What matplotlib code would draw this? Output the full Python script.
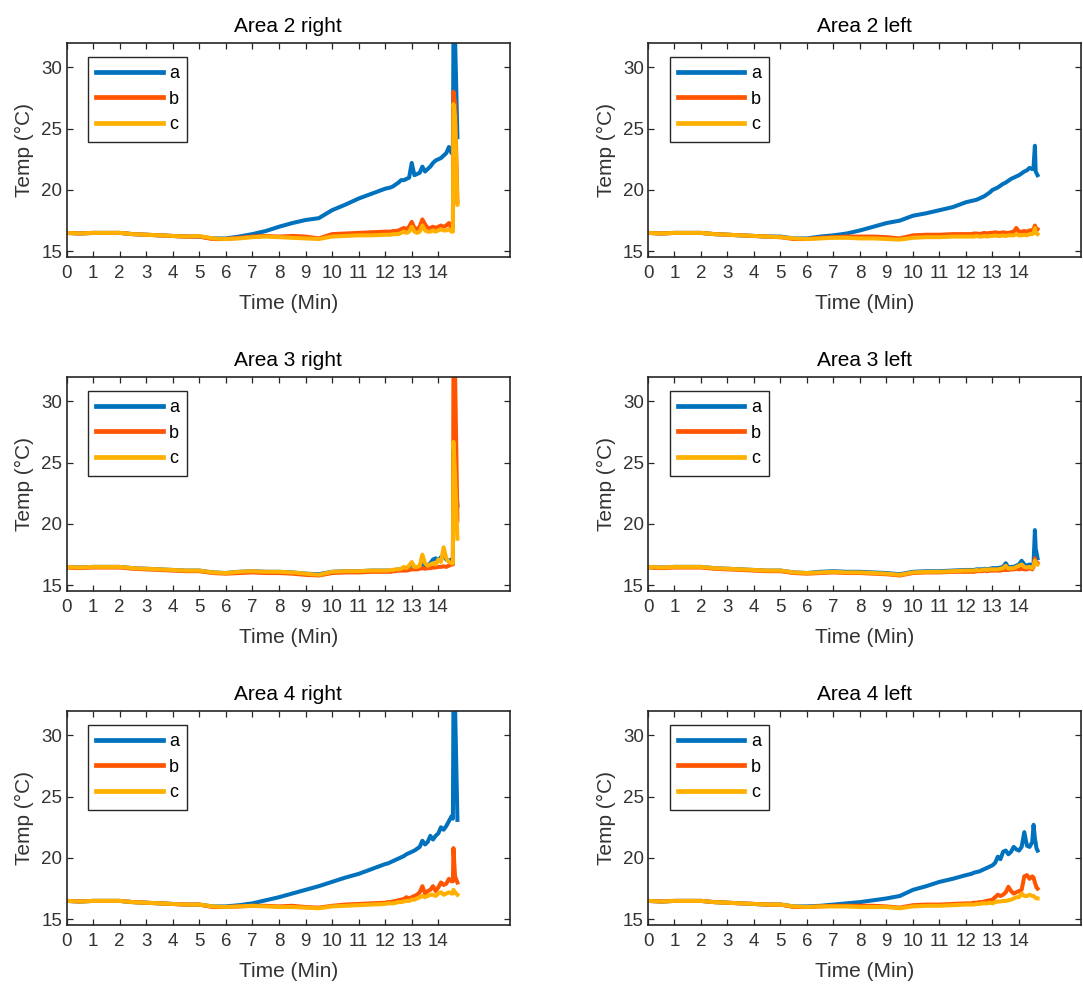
import numpy as np
import matplotlib
matplotlib.use("Agg")
import matplotlib.pyplot as plt

plt.rcParams['font.family'] = ['Liberation Sans', 'DejaVu Sans']

# Sample times (min): half-minute steps up to 12, then 0.1-minute steps to 14.5
T_MAIN = np.r_[np.arange(0, 12.01, 0.5), np.round(np.arange(12.1, 14.51, 0.1), 1)]

SERIES_LABELS = ["a", "b", "c"]
COLORS = ["#0072BD", "#FF5500", "#FFB000"]

# ---- Area 2 right ----
A2R_T = [14.55, 14.57, 14.63, 14.72]
A2R_A = [16.5, 16.45, 16.5, 16.5, 16.5, 16.4, 16.35, 16.3, 16.25, 16.2, 16.2, 16.05, 16.05,
         16.2, 16.4, 16.65, 17.0, 17.3, 17.55, 17.7, 18.35, 18.8, 19.3, 19.7, 20.1,
         20.15, 20.2, 20.3, 20.45, 20.6, 20.8, 20.8, 20.9, 21.0, 22.2,
         21.2, 21.3, 21.4, 21.9, 21.5, 21.7, 21.9, 22.2, 22.4, 22.5,
         22.6, 22.8, 23.0, 23.5, 23.0,
         23.1, 32.5, 32.5, 24.3]
A2R_B = [16.5, 16.45, 16.5, 16.5, 16.5, 16.4, 16.35, 16.3, 16.25, 16.2, 16.2, 16.0, 16.0,
         16.1, 16.2, 16.25, 16.2, 16.25, 16.2, 16.05, 16.4, 16.45, 16.5, 16.55, 16.6,
         16.6, 16.6, 16.65, 16.65, 16.7, 16.8, 16.9, 16.8, 17.0, 17.4,
         16.9, 16.8, 17.0, 17.6, 17.2, 16.9, 16.9, 17.0, 16.9, 17.0,
         17.1, 17.0, 17.1, 17.3, 16.9,
         16.9, 28.0, 27.0, 19.0]
A2R_C = [16.5, 16.45, 16.5, 16.5, 16.5, 16.4, 16.35, 16.3, 16.25, 16.2, 16.25, 16.05, 16.0,
         16.05, 16.15, 16.2, 16.15, 16.1, 16.05, 16.0, 16.2, 16.25, 16.3, 16.3, 16.35,
         16.35, 16.35, 16.4, 16.4, 16.4, 16.5, 16.6, 16.5, 16.6, 17.0,
         16.6, 16.5, 16.6, 17.1, 16.7, 16.6, 16.6, 16.7, 16.6, 16.7,
         16.8, 16.7, 16.7, 16.8, 16.6,
         16.6, 27.0, 26.0, 18.8]

# ---- Area 2 left ----
A2L_T = [14.55, 14.6, 14.63, 14.7]
A2L_A = [16.5, 16.45, 16.5, 16.5, 16.5, 16.4, 16.35, 16.3, 16.25, 16.2, 16.2, 16.05, 16.05,
         16.2, 16.3, 16.45, 16.7, 17.0, 17.3, 17.5, 17.9, 18.1, 18.35, 18.6, 19.0,
         19.05, 19.1, 19.15, 19.2, 19.3, 19.4, 19.5, 19.65, 19.8, 20.0,
         20.1, 20.2, 20.35, 20.5, 20.6, 20.75, 20.9, 21.0, 21.1, 21.2,
         21.35, 21.5, 21.6, 21.8, 21.7,
         21.9, 23.6, 21.5, 21.2]
A2L_B = [16.5, 16.45, 16.5, 16.5, 16.5, 16.4, 16.35, 16.3, 16.25, 16.2, 16.15, 16.0, 16.0,
         16.1, 16.15, 16.2, 16.2, 16.2, 16.15, 16.05, 16.3, 16.35, 16.35, 16.4, 16.4,
         16.4, 16.4, 16.45, 16.45, 16.4, 16.45, 16.5, 16.45, 16.5, 16.5,
         16.55, 16.5, 16.5, 16.55, 16.5, 16.5, 16.55, 16.6, 16.9, 16.6,
         16.6, 16.65, 16.6, 16.7, 16.7,
         16.8, 17.1, 16.9, 16.8]
A2L_C = [16.5, 16.45, 16.5, 16.5, 16.5, 16.4, 16.35, 16.3, 16.25, 16.2, 16.15, 16.05, 16.0,
         16.05, 16.1, 16.1, 16.05, 16.05, 16.0, 15.95, 16.1, 16.15, 16.15, 16.2, 16.2,
         16.2, 16.2, 16.2, 16.25, 16.2, 16.2, 16.25, 16.2, 16.25, 16.25,
         16.3, 16.25, 16.25, 16.3, 16.25, 16.3, 16.3, 16.3, 16.4, 16.3,
         16.3, 16.35, 16.3, 16.4, 16.4,
         16.5, 16.9, 16.5, 16.4]

# ---- Area 3 right ----
A3R_T = [14.55, 14.57, 14.63, 14.72]
A3R_A = [16.5, 16.45, 16.5, 16.5, 16.5, 16.4, 16.35, 16.3, 16.25, 16.2, 16.2, 16.05, 16.0,
         16.1, 16.15, 16.1, 16.1, 16.05, 15.95, 15.9, 16.1, 16.15, 16.15, 16.2, 16.2,
         16.2, 16.2, 16.25, 16.25, 16.3, 16.3, 16.4, 16.3, 16.5, 16.8,
         16.5, 16.4, 16.5, 16.9, 16.6, 16.6, 16.8, 17.1, 17.2, 17.0,
         17.3, 17.4, 17.1, 17.0, 17.1,
         17.1, 26.0, 24.0, 21.5]
A3R_B = [16.45, 16.4, 16.45, 16.45, 16.45, 16.35, 16.3, 16.25, 16.2, 16.15, 16.15, 16.0, 15.95,
         16.0, 16.05, 16.0, 16.0, 15.95, 15.85, 15.8, 16.0, 16.05, 16.05, 16.1, 16.1,
         16.1, 16.1, 16.15, 16.15, 16.2, 16.2, 16.2, 16.2, 16.25, 16.3,
         16.3, 16.3, 16.35, 16.4, 16.35, 16.4, 16.4, 16.45, 16.45, 16.5,
         16.5, 16.55, 16.5, 16.6, 16.7,
         16.7, 32.5, 32.5, 20.3]
A3R_C = [16.5, 16.45, 16.5, 16.5, 16.5, 16.4, 16.35, 16.3, 16.25, 16.2, 16.2, 16.05, 16.0,
         16.1, 16.15, 16.1, 16.1, 16.05, 15.95, 15.85, 16.1, 16.15, 16.15, 16.2, 16.2,
         16.2, 16.25, 16.25, 16.3, 16.3, 16.35, 16.5, 16.4, 16.6, 16.9,
         16.5, 16.5, 16.6, 17.5, 16.8, 16.6, 16.7, 16.8, 16.7, 17.1,
         16.9, 18.1, 17.2, 16.9, 16.8,
         16.8, 26.7, 24.0, 18.8]

# ---- Area 3 left ----
A3L_T = [14.55, 14.6, 14.63, 14.7]
A3L_A = [16.5, 16.45, 16.5, 16.5, 16.5, 16.4, 16.35, 16.3, 16.25, 16.2, 16.2, 16.05, 16.0,
         16.1, 16.15, 16.1, 16.1, 16.05, 16.0, 15.9, 16.1, 16.15, 16.15, 16.2, 16.25,
         16.25, 16.25, 16.25, 16.3, 16.3, 16.3, 16.35, 16.3, 16.35, 16.4,
         16.4, 16.4, 16.45, 16.5, 16.8, 16.45, 16.5, 16.5, 16.6, 16.7,
         17.0, 16.7, 16.6, 16.7, 16.6,
         16.8, 19.5, 18.0, 17.2]
A3L_B = [16.45, 16.4, 16.45, 16.45, 16.45, 16.35, 16.3, 16.25, 16.2, 16.15, 16.15, 16.0, 15.95,
         16.0, 16.05, 16.0, 16.0, 15.95, 15.9, 15.8, 16.0, 16.05, 16.05, 16.1, 16.1,
         16.1, 16.1, 16.1, 16.15, 16.15, 16.15, 16.2, 16.15, 16.2, 16.2,
         16.2, 16.2, 16.2, 16.25, 16.25, 16.25, 16.3, 16.3, 16.35, 16.3,
         16.35, 16.3, 16.3, 16.4, 16.3,
         16.5, 17.2, 16.9, 16.8]
A3L_C = [16.5, 16.45, 16.5, 16.5, 16.5, 16.4, 16.35, 16.3, 16.25, 16.2, 16.2, 16.05, 16.0,
         16.05, 16.1, 16.05, 16.05, 16.0, 15.95, 15.85, 16.05, 16.1, 16.1, 16.15, 16.2,
         16.2, 16.2, 16.2, 16.25, 16.2, 16.25, 16.3, 16.25, 16.3, 16.3,
         16.3, 16.3, 16.35, 16.4, 16.6, 16.35, 16.4, 16.4, 16.5, 16.6,
         16.7, 16.5, 16.45, 16.5, 16.4,
         16.6, 17.0, 16.8, 16.7]

# ---- Area 4 right ----
A4R_T = [14.55, 14.57, 14.63, 14.72]
A4R_A = [16.5, 16.45, 16.5, 16.5, 16.5, 16.4, 16.35, 16.3, 16.25, 16.2, 16.2, 16.05, 16.05,
         16.15, 16.3, 16.55, 16.8, 17.1, 17.4, 17.7, 18.05, 18.4, 18.7, 19.1, 19.5,
         19.55, 19.65, 19.75, 19.85, 19.95, 20.05, 20.15, 20.3, 20.4, 20.5,
         20.6, 20.75, 20.9, 21.4, 21.1, 21.3, 21.8, 21.5, 21.8, 22.0,
         22.5, 22.3, 22.6, 23.0, 23.4,
         23.2, 32.5, 32.5, 23.1]
A4R_B = [16.5, 16.45, 16.5, 16.5, 16.5, 16.4, 16.35, 16.3, 16.25, 16.2, 16.2, 16.0, 16.0,
         16.05, 16.1, 16.1, 16.05, 16.1, 16.0, 15.95, 16.1, 16.2, 16.25, 16.3, 16.35,
         16.4, 16.4, 16.45, 16.5, 16.55, 16.6, 16.65, 16.8, 16.7, 16.8,
         16.9, 17.0, 17.2, 17.7, 17.1, 17.3, 17.4, 17.7, 17.3, 17.6,
         18.0, 17.8, 17.9, 18.3, 18.1,
         18.1, 20.8, 18.5, 18.0]
A4R_C = [16.5, 16.45, 16.5, 16.5, 16.5, 16.4, 16.35, 16.3, 16.25, 16.2, 16.2, 16.05, 16.0,
         16.05, 16.1, 16.05, 16.0, 16.0, 15.95, 15.9, 16.05, 16.1, 16.15, 16.2, 16.25,
         16.3, 16.3, 16.3, 16.35, 16.4, 16.4, 16.45, 16.5, 16.5, 16.6,
         16.6, 16.7, 16.8, 16.9, 16.8, 16.9, 17.0, 17.0, 16.9, 17.1,
         17.2, 17.0, 17.1, 17.2, 17.1,
         17.1, 17.4, 17.2, 17.0]

# ---- Area 4 left ----
A4L_T = [14.55, 14.6, 14.66, 14.7]
A4L_A = [16.5, 16.45, 16.5, 16.5, 16.5, 16.4, 16.35, 16.3, 16.25, 16.2, 16.2, 16.05, 16.05,
         16.1, 16.2, 16.3, 16.4, 16.55, 16.7, 16.9, 17.4, 17.7, 18.05, 18.3, 18.6,
         18.65, 18.7, 18.8, 18.85, 18.9, 19.0, 19.1, 19.2, 19.3, 19.4,
         19.6, 20.1, 19.9, 20.5, 20.6, 20.3, 20.5, 20.9, 20.7, 20.6,
         20.9, 22.1, 21.0, 20.9, 21.3,
         22.7, 21.6, 20.8, 20.6]
A4L_B = [16.5, 16.45, 16.5, 16.5, 16.5, 16.4, 16.35, 16.3, 16.25, 16.2, 16.2, 16.0, 16.0,
         16.05, 16.1, 16.1, 16.1, 16.1, 16.05, 15.95, 16.15, 16.2, 16.2, 16.25, 16.3,
         16.3, 16.3, 16.35, 16.35, 16.4, 16.4, 16.45, 16.5, 16.55, 16.6,
         16.8, 17.0, 16.9, 17.0, 17.2, 17.65, 17.3, 17.1, 17.2, 17.3,
         17.4, 18.5, 18.6, 18.3, 18.5,
         18.4, 18.0, 17.6, 17.5]
A4L_C = [16.5, 16.45, 16.5, 16.5, 16.5, 16.4, 16.35, 16.3, 16.25, 16.2, 16.2, 16.05, 16.0,
         16.05, 16.05, 16.05, 16.0, 16.0, 16.0, 15.9, 16.05, 16.1, 16.1, 16.15, 16.2,
         16.2, 16.2, 16.2, 16.25, 16.25, 16.3, 16.3, 16.3, 16.35, 16.3,
         16.4, 16.45, 16.45, 16.5, 16.5, 16.55, 16.6, 16.7, 16.8, 16.8,
         17.1, 16.9, 16.9, 17.0, 16.9,
         16.9, 16.8, 16.7, 16.7]

PANELS = [
    ("Area 2 right", A2R_T, (A2R_A, A2R_B, A2R_C)),
    ("Area 2 left", A2L_T, (A2L_A, A2L_B, A2L_C)),
    ("Area 3 right", A3R_T, (A3R_A, A3R_B, A3R_C)),
    ("Area 3 left", A3L_T, (A3L_A, A3L_B, A3L_C)),
    ("Area 4 right", A4R_T, (A4R_A, A4R_B, A4R_C)),
    ("Area 4 left", A4L_T, (A4L_A, A4L_B, A4L_C)),
]

X_TICKS = list(range(0, 15))
Y_TICKS = [15, 20, 25, 30]
YLIM = (14.56, 32.0)

INK = "#262626"
TICK_INK = "#333333"

# Figure geometry in pixels
W, H = 1083, 985
COL_LEFT = [66.5, 648.0]
COL_WIDTH = [443.5, 433.0]
COL_XMAX = [16.7, 16.34]
ROW_TOP = [42.7, 376.7, 710.7]
AX_H = 214.0

fig = plt.figure(figsize=(W / 100, H / 100), dpi=100)

for k, (title, tail_t, series) in enumerate(PANELS):
    row, col = divmod(k, 2)
    left = COL_LEFT[col] / W
    bottom = 1 - (ROW_TOP[row] + AX_H) / H
    ax = fig.add_axes([left, bottom, COL_WIDTH[col] / W, AX_H / H])

    t = np.r_[T_MAIN, tail_t]
    for vals, lab, colr in zip(series, SERIES_LABELS, COLORS):
        ax.plot(t, vals, color=colr, lw=2.9, label=lab, solid_joinstyle="round")

    ax.set_xlim(0, COL_XMAX[col])
    ax.set_ylim(*YLIM)
    ax.set_xticks(X_TICKS)
    ax.set_yticks(Y_TICKS)
    ax.tick_params(direction="in", top=True, right=True, length=4, width=0.9,
                   color=INK, labelcolor=TICK_INK, labelsize=13.5)
    ax.tick_params(axis="x", pad=6)
    ax.tick_params(axis="y", pad=3)
    for sp in ax.spines.values():
        sp.set_color(INK)
        sp.set_linewidth(1.2)

    ax.set_title(title, fontsize=15, color="black", pad=8)
    ax.set_xlabel("Time (Min)", fontsize=15, color=TICK_INK)
    ax.set_ylabel("Temp (°C)", fontsize=15, color=TICK_INK)
    ax.xaxis.set_label_coords(0.5, -0.172)
    ax.yaxis.set_label_coords((34 - COL_LEFT[0]) / COL_WIDTH[col], 0.5)

    leg = ax.legend(loc="upper left",
                    bbox_to_anchor=(21.5 / COL_WIDTH[col], (AX_H - 14.3) / AX_H),
                    borderaxespad=0, fontsize=13, handlelength=3.7,
                    handletextpad=0.35, labelspacing=0.48, borderpad=0.45,
                    fancybox=False, framealpha=1, edgecolor=INK)
    leg.get_frame().set_linewidth(1.0)
    for line in leg.get_lines():
        line.set_linewidth(3.4)

fig.savefig("out.png", dpi=100)
